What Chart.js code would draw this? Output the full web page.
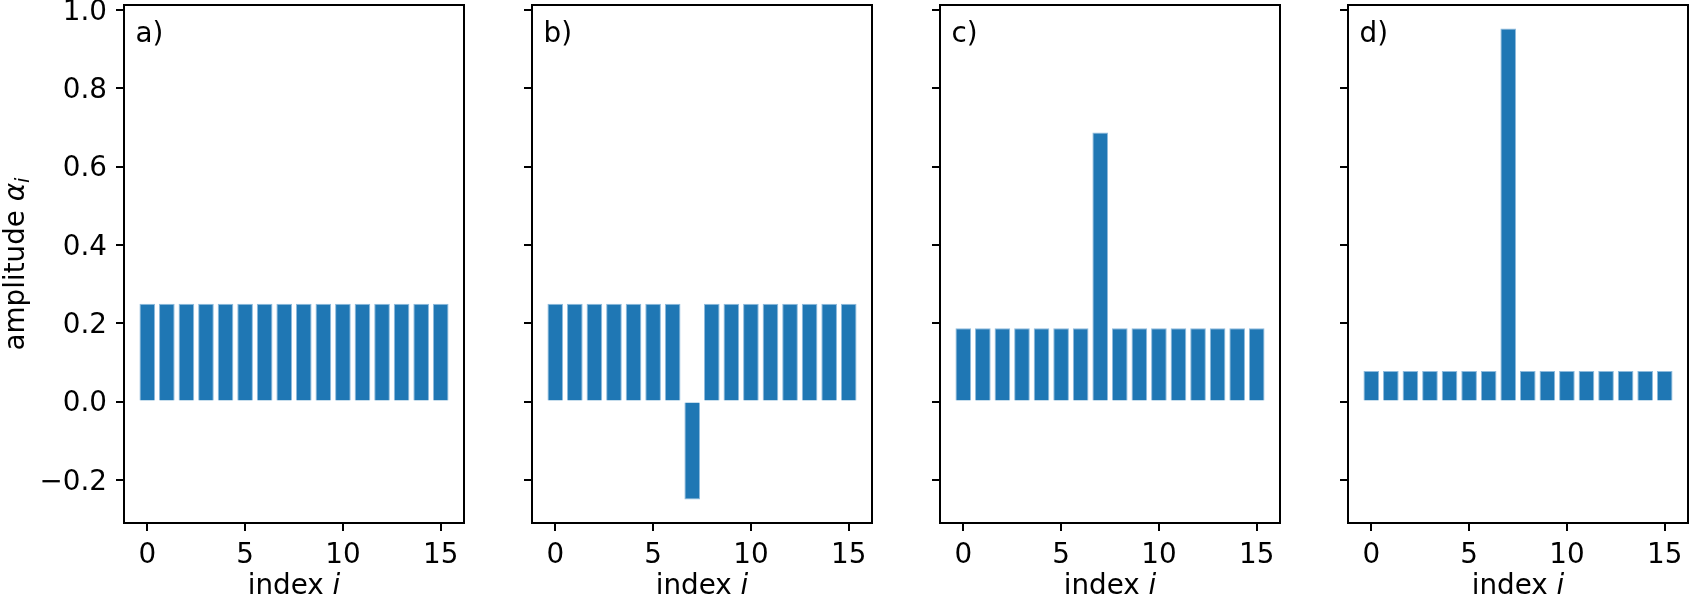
<!DOCTYPE html>
<html>
<head>
<meta charset="utf-8">
<script src="https://cdn.jsdelivr.net/npm/chart.js@4.4.0/dist/chart.umd.min.js"></script>
<style>
  html, body { margin: 0; padding: 0; background: #fff; }
  #fig { position: relative; width: 1690px; height: 596px; overflow: hidden; }
  #fig canvas { position: absolute; top: 0; }
</style>
</head>
<body>
<div id="fig">
  <canvas id="panel-a"></canvas>
  <canvas id="panel-b"></canvas>
  <canvas id="panel-c"></canvas>
  <canvas id="panel-d"></canvas>
</div>
<script>
// index i = 0..15
var indices = [0, 1, 2, 3, 4, 5, 6, 7, 8, 9, 10, 11, 12, 13, 14, 15];

// amplitudes for each panel
var ampA = [0.25, 0.25, 0.25, 0.25, 0.25, 0.25, 0.25, 0.25, 0.25, 0.25, 0.25, 0.25, 0.25, 0.25, 0.25, 0.25];
var ampB = [0.25, 0.25, 0.25, 0.25, 0.25, 0.25, 0.25, -0.25, 0.25, 0.25, 0.25, 0.25, 0.25, 0.25, 0.25, 0.25];
var ampC = [0.1875, 0.1875, 0.1875, 0.1875, 0.1875, 0.1875, 0.1875, 0.6875, 0.1875, 0.1875, 0.1875, 0.1875, 0.1875, 0.1875, 0.1875, 0.1875];
var ampD = [0.078, 0.078, 0.078, 0.078, 0.078, 0.078, 0.078, 0.953, 0.078, 0.078, 0.078, 0.078, 0.078, 0.078, 0.078, 0.078];

var panelLabels = ["a)", "b)", "c)", "d)"];
var xTicks = [0, 5, 10, 15];
var yTicks = [-0.2, 0, 0.2, 0.4, 0.6, 0.8, 1.0];

var FONT = "DejaVu Sans";
var FS = 27.8;
var BLUE = "#1f77b4";

// axis ranges (matplotlib-style 5% margins)
var xMin = -1.19, xMax = 16.19;
var yMin = -0.31, yMax = 1.013;

function drawMixed(ctx, parts, x, y) {
  // parts: [text, font, dy]
  var total = 0;
  parts.forEach(function (p) {
    ctx.font = p[1];
    total += ctx.measureText(p[0]).width;
  });
  var cx = x - total / 2;
  parts.forEach(function (p) {
    ctx.font = p[1];
    ctx.fillText(p[0], cx, y + (p[2] || 0));
    cx += ctx.measureText(p[0]).width;
  });
}

function makePanel(canvasId, left, width, yAxisWidth, values, label, showYLabels) {
  var canvas = document.getElementById(canvasId);
  canvas.width = width;
  canvas.height = 596;
  canvas.style.left = left + "px";
  canvas.style.width = width + "px";
  canvas.style.height = "596px";

  var framePlugin = {
    id: "frame",
    beforeDraw: function (chart) {
      // nudge y tick labels down a little, like matplotlib's baseline centring
      var items = chart.scales.y.getLabelItems(chart.chartArea);
      if (!items._nudged) {
        items.forEach(function (it) { it.options.translation[1] += 2.5; });
        items._nudged = true;
      }
    },
    afterDraw: function (chart) {
      var ctx = chart.ctx;
      var a = chart.chartArea;
      ctx.save();
      ctx.strokeStyle = "#000";
      ctx.lineWidth = 2;
      ctx.strokeRect(a.left, a.top, a.right - a.left, a.bottom - a.top);

      ctx.fillStyle = "#000";
      ctx.textBaseline = "alphabetic";
      ctx.textAlign = "left";
      ctx.font = FS + "px '" + FONT + "'";
      ctx.fillText(label, a.left + 11.5, a.top + 37);

      // x axis title: "index i"
      drawMixed(ctx, [
        ["index ", FS + "px '" + FONT + "'"],
        ["i", "italic " + FS + "px '" + FONT + "'"]
      ], (a.left + a.right) / 2, 594);

      if (showYLabels) {
        ctx.translate(24, (a.top + a.bottom) / 2);
        ctx.rotate(-Math.PI / 2);
        drawMixed(ctx, [
          ["amplitude ", FS + "px '" + FONT + "'"],
          ["\u03b1", "italic " + FS + "px '" + FONT + "'"],
          ["i", "italic " + (FS * 0.7) + "px '" + FONT + "'", 5]
        ], 0, 0);
      }
      ctx.restore();
    }
  };

  return new Chart(canvas.getContext("2d"), {
    type: "bar",
    data: {
      datasets: [{
        data: indices.map(function (x, i) { return { x: x, y: values[i] }; }),
        backgroundColor: BLUE,
        borderColor: "#8fbbdd",
        borderWidth: 1,
        barPercentage: 0.8,
        categoryPercentage: 1.0
      }]
    },
    options: {
      responsive: false,
      animation: false,
      layout: { padding: { top: 5, right: width - yAxisWidth - 340, bottom: 0, left: 0 } },
      plugins: { legend: { display: false }, tooltip: { enabled: false } },
      scales: {
        x: {
          type: "linear",
          min: xMin,
          max: xMax,
          offset: false,
          afterBuildTicks: function (s) { s.ticks = xTicks.map(function (v) { return { value: v }; }); },
          afterFit: function (s) { s.height = 73; s.paddingLeft = 0; s.paddingRight = 0; },
          grid: { offset: false, drawOnChartArea: false, drawTicks: true, tickLength: 8, color: "#000", lineWidth: 2 },
          border: { display: false },
          ticks: {
            color: "#000",
            font: { family: FONT, size: FS },
            padding: 8,
            maxRotation: 0,
            autoSkip: false,
            callback: function (v) { return String(v); }
          }
        },
        y: {
          type: "linear",
          min: yMin,
          max: yMax,
          afterBuildTicks: function (s) { s.ticks = yTicks.map(function (v) { return { value: v }; }); },
          afterFit: function (s) { s.width = yAxisWidth; s.paddingTop = 0; s.paddingBottom = 0; },
          grid: { drawOnChartArea: false, drawTicks: true, tickLength: 8, color: "#000", lineWidth: 2 },
          border: { display: false },
          ticks: {
            display: showYLabels,
            color: "#000",
            font: { family: FONT, size: FS },
            padding: 9,
            callback: function (v) { return v.toFixed(1).replace("-", "\u2212"); }
          }
        }
      }
    },
    plugins: [framePlugin]
  });
}

makePanel("panel-a", 0, 468, 124, ampA, panelLabels[0], true);
makePanel("panel-b", 520, 356, 12, ampB, panelLabels[1], false);
makePanel("panel-c", 928, 356, 12, ampC, panelLabels[2], false);
makePanel("panel-d", 1336, 354, 12, ampD, panelLabels[3], false);
</script>
</body>
</html>
